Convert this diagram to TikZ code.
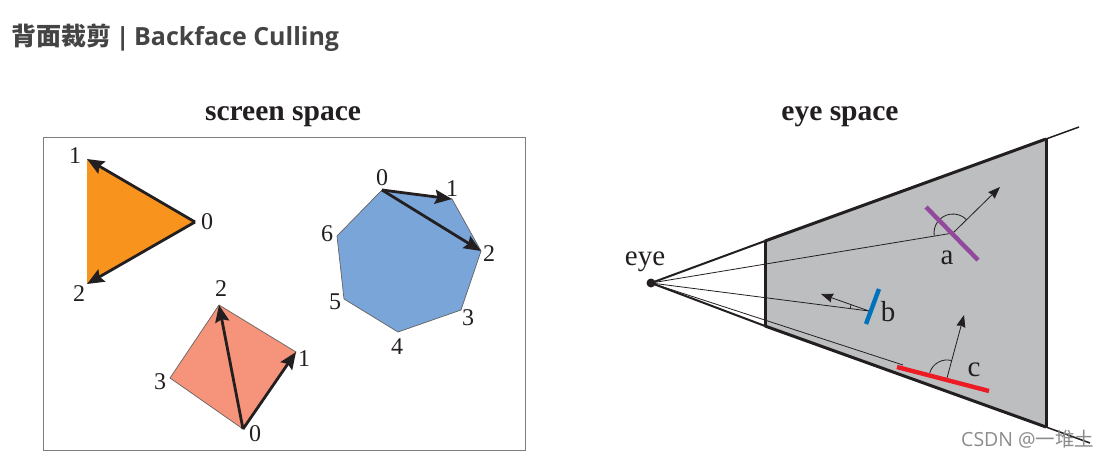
\documentclass[tikz,border=0pt]{standalone}
\usepackage{fontspec}
\usepackage{xcolor}
\usepackage{tikz}
\usetikzlibrary{arrows.meta,calc,positioning}
\setmainfont{Liberation Serif}
\newfontfamily\cjkfont{Noto Sans CJK SC}
\newfontfamily\latinfont{Open Sans}
\definecolor{ink}{RGB}{35,31,32}
\definecolor{titlegray}{RGB}{68,68,68}
\definecolor{framegray}{RGB}{125,125,125}
\definecolor{orangefill}{RGB}{248,148,29}
\definecolor{bluefill}{RGB}{122,165,216}
\definecolor{salmonfill}{RGB}{245,148,122}
\definecolor{conegray}{RGB}{188,190,192}
\definecolor{purplebar}{RGB}{146,73,155}
\definecolor{bluebar}{RGB}{0,114,188}
\definecolor{redbar}{RGB}{237,28,36}
\tikzset{
  heavy/.style={-{Stealth[length=17pt,width=14pt,inset=2.5pt]},line width=2.8pt,draw=ink},
  normal/.style={-{Stealth[length=12pt,width=9pt,inset=1pt]},line width=0.8pt,draw=ink},
  ray/.style={line width=0.8pt,draw=ink},
  edge/.style={line width=3pt,draw=ink},
  poly/.style={draw=ink!70,line width=0.7pt},
  bar/.style={line width=4.4pt},
  num/.style={font=\fontsize{24}{24}\selectfont,text=ink,inner sep=0pt},
  lett/.style={font=\fontsize{29}{29}\selectfont,text=ink,inner sep=0pt},
  head/.style={font=\fontsize{29.5}{29.5}\selectfont\bfseries,text=ink,inner sep=0pt}
}
\begin{document}
\begin{tikzpicture}[x=1pt,y=-1pt]
  \useasboundingbox (0,0) rectangle (1107,457);
  \fill[white] (0,0) rectangle (1107,457);
  \node[anchor=west,inner sep=0pt,text=titlegray,font=\fontsize{25}{25}\selectfont\bfseries] (title) at (11,38) {\cjkfont 背面裁剪\latinfont\hspace*{4.6pt}|\hspace*{4.6pt}Backface Culling};
  \node[head] (screenhead) at (283,117) {screen space};
  \node[head] (eyehead) at (840,117) {eye space};
  \draw[framegray,line width=1pt] (43.5,137.5) rectangle (525,450);
  % triangle
  \coordinate (t0) at (195,222);
  \coordinate (t1) at (87,159);
  \coordinate (t2) at (87,284);
  \fill[orangefill] (t0) -- (t1) -- (t2) -- cycle;
  \draw[heavy] (t0) -- (t1);
  \draw[heavy] (t0) -- (t2);
  \node[num] (t0n) at (207,222) {0};
  \node[num] (t1n) at (75,156) {1};
  \node[num] (t2n) at (79,294) {2};
  % heptagon
  \coordinate (h0) at (382,190);
  \coordinate (h1) at (452,199);
  \coordinate (h2) at (481,251);
  \coordinate (h3) at (461,310);
  \coordinate (h4) at (398,332);
  \coordinate (h5) at (344,299);
  \coordinate (h6) at (337,236);
  \draw[poly,fill=bluefill] (h0) -- (h1) -- (h2) -- (h3) -- (h4) -- (h5) -- (h6) -- cycle;
  \draw[heavy] (h0) -- (h1);
  \draw[heavy] (h0) -- (h2);
  \node[num] (h0n) at (382,178) {0};
  \node[num] (h1n) at (452,189) {1};
  \node[num] (h2n) at (489,254) {2};
  \node[num] (h3n) at (468,318) {3};
  \node[num] (h4n) at (397,347) {4};
  \node[num] (h5n) at (335,302) {5};
  \node[num] (h6n) at (327,234) {6};
  % quad
  \coordinate (q0) at (243,429);
  \coordinate (q1) at (296,352);
  \coordinate (q2) at (219,305);
  \coordinate (q3) at (170,378);
  \draw[poly,fill=salmonfill] (q0) -- (q1) -- (q2) -- (q3) -- cycle;
  \draw[heavy] (q0) -- (q1);
  \draw[heavy] (q0) -- (q2);
  \node[num] (q0n) at (255,434) {0};
  \node[num] (q1n) at (304,359) {1};
  \node[num] (q2n) at (221,289) {2};
  \node[num] (q3n) at (160,382) {3};
  % frustum
  \coordinate (eyept) at (651,283);
  \coordinate (nt) at (765,241);
  \coordinate (nb) at (765,326);
  \coordinate (ft) at (1046,139);
  \coordinate (fb) at (1046,427);
  \coordinate (topend) at (1079,127);
  \coordinate (botend) at (1090,443);
  \fill[conegray] (nt) -- (ft) -- (fb) -- (nb) -- cycle;
  \draw[line width=2pt,draw=ink] (eyept) -- (nt);
  \draw[edge] (nt) -- (ft);
  \draw[line width=1.5pt,draw=ink] (ft) -- (topend);
  \draw[line width=2pt,draw=ink] (eyept) -- (nb);
  \draw[edge] (nb) -- (fb);
  \draw[line width=1.5pt,draw=ink] (fb) -- (botend);
  \draw[edge] (nt) -- (nb);
  \draw[edge] (ft) -- (fb);
  \fill[ink] (eyept) circle (4.5pt);
  \node[lett] (eyen) at (645,262) {eye};
  % patch a
  \coordinate (apt) at (953,233);
  \draw[ray] (eyept) -- (apt);
  \draw[normal] (apt) -- (1000,187);
  \draw[ray] ($(apt)+(-18.8,2.7)$) arc[start angle=171.8,end angle=315.6,radius=19];
  \draw[purplebar,bar] (926,207) -- (978,260);
  \node[lett] (an) at (947,258) {a};
  % patch b
  \coordinate (bpt) at (869,311);
  \draw[ray] (eyept) -- (bpt);
  \draw[normal] (bpt) -- (821,294);
  \draw[ray] ($(bpt)+(-18.8,-2.4)$) arc[start angle=187.3,end angle=199.5,radius=19];
  \draw[bluebar,bar] (866,324) -- (879,289);
  \node[lett] (bn) at (888,312) {b};
  % patch c
  \coordinate (cpt) at (947,378);
  \coordinate (cleft) at (903,365);
  \draw[ray] (eyept) -- (cleft);
  \draw[normal] (cpt) -- (964,315);
  \draw[ray] ($(cpt)+(-17.3,-5.0)$) arc[start angle=196,end angle=285,radius=18];
  \draw[redbar,bar] (897,367) -- (989,391);
  \node[lett] (cn) at (974,370) {c};
  % watermark
  \node[anchor=west,inner sep=0pt,text=black!45,font=\fontsize{19.5}{19.5}\selectfont] (mark) at (961,439) {\latinfont CSDN @\cjkfont 一堆土};
\end{tikzpicture}
\end{document}
